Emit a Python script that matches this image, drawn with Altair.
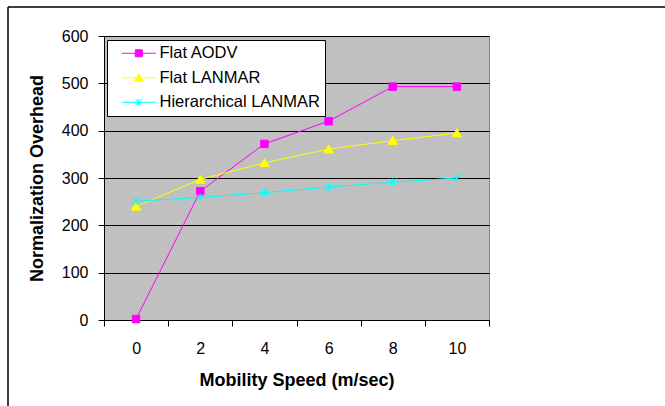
import altair as alt
import pandas as pd

speeds = ["0", "2", "4", "6", "8", "10"]
series_names = ["Flat AODV", "Flat LANMAR", "Hierarchical LANMAR"]
flat_aodv = [2, 272, 372, 420, 493, 493]
flat_lanmar = [240, 297, 332, 361, 379, 395]
hier_lanmar = [251, 259, 269, 281, 291, 300]
y_ticks = [0, 100, 200, 300, 400, 500, 600]
colors = ["#FF00FF", "#FFFF00", "#00FFFF"]

rows = []
for name, vals in zip(series_names, [flat_aodv, flat_lanmar, hier_lanmar]):
    for s, v in zip(speeds, vals):
        rows.append({"speed": s, "value": v, "series": name, "marker": name})
df = pd.DataFrame(rows)

FONT = "Liberation Sans"

marker_paths = [
    "M-1,-1H1V1H-1Z",
    "M0,-1.15L1.25,1H-1.25Z",
    "M-1,-1L1,1M-1,1L1,-1M0,-1V1",
]
# legend symbols: a short line with the marker in its middle
legend_paths = [
    "M0.45,0H10.15M4.3,-1H6.3V1H4.3Z",
    "M0.45,0H10.15M5.3,-1.15L6.55,1H4.05Z",
    "M0.45,0H10.15M4.3,-1L6.3,1M4.3,1L6.3,-1M5.3,-1V1",
]

xenc = alt.X("speed:O", sort=speeds, bandPosition=0.5,
             scale=alt.Scale(type="band", paddingInner=0, paddingOuter=0),
             axis=alt.Axis(title="Mobility Speed (m/sec)", labelAngle=0,
                           tickBand="extent", tickSize=6, labelPadding=14,
                           domainColor="black", tickColor="black", grid=False,
                           labelFontSize=16, labelFont=FONT, labelColor="black",
                           titleFontSize=18, titleFont=FONT, titleFontWeight="bold",
                           titlePadding=15, titleColor="black"))
yenc = alt.Y("value:Q", scale=alt.Scale(domain=[0, 600]),
             axis=alt.Axis(title="Normalization Overhead", values=y_ticks,
                           tickSize=6, labelPadding=10, domainColor="black",
                           tickColor="black", grid=True, gridColor="black",
                           gridWidth=1, labelFontSize=16, labelFont=FONT,
                           labelColor="black", titleFontSize=18, titleFont=FONT,
                           titleFontWeight="bold", titlePadding=15,
                           titleColor="black"))

cscale = alt.Scale(domain=series_names, range=colors)

base = alt.Chart(df)

leg = alt.Legend(title=None, orient="none", legendX=3, legendY=4, padding=5,
                 fillColor="white", strokeColor="black", labelFontSize=16.5,
                 labelFont=FONT, labelColor="black", labelOffset=31,
                 rowPadding=7.5, symbolSize=49, symbolStrokeWidth=1,
                 symbolOpacity=1, labelLimit=400)

# invisible layer that only carries the legend
legend_layer = base.mark_point(filled=True, size=49, strokeWidth=1, opacity=0).encode(
    x=xenc, y=yenc,
    fill=alt.Fill("series:N", scale=cscale, legend=leg),
    stroke=alt.Stroke("series:N", scale=cscale, legend=leg),
    shape=alt.Shape("series:N", scale=alt.Scale(domain=series_names, range=legend_paths), legend=leg),
)

lines = base.mark_line(strokeWidth=1).encode(
    x=xenc, y=yenc,
    stroke=alt.Stroke("marker:N", scale=cscale, legend=None),
)

points = base.mark_point(filled=True, size=56, strokeWidth=1, opacity=1).encode(
    x=xenc, y=yenc,
    fill=alt.Fill("marker:N", scale=cscale, legend=None),
    stroke=alt.Stroke("marker:N", scale=cscale, legend=None),
    shape=alt.Shape("marker:N", scale=alt.Scale(domain=series_names, range=marker_paths), legend=None),
)

frame_df = pd.DataFrame({"a": [0]})
frame_left = alt.Chart(frame_df).mark_rule(color="black", strokeWidth=1.5).encode(
    x=alt.value(-96), y=alt.value(-29), y2=alt.value(400))
frame_top = alt.Chart(frame_df).mark_rule(color="black", strokeWidth=1.5).encode(
    x=alt.value(-96), x2=alt.value(600), y=alt.value(-29))

chart = alt.layer(legend_layer, lines, points, frame_left, frame_top).resolve_scale(
    shape="independent", fill="independent", stroke="independent"
).properties(
    width=385, height=284,
    autosize=alt.AutoSizeParams(type="none"),
    padding={"left": 104, "top": 36, "right": 176, "bottom": 86},
    background="white",
).configure_view(fill="#C0C0C0", stroke="#808080", strokeWidth=1)

chart.save("out.html", embed_options={"renderer": "svg", "actions": False})
